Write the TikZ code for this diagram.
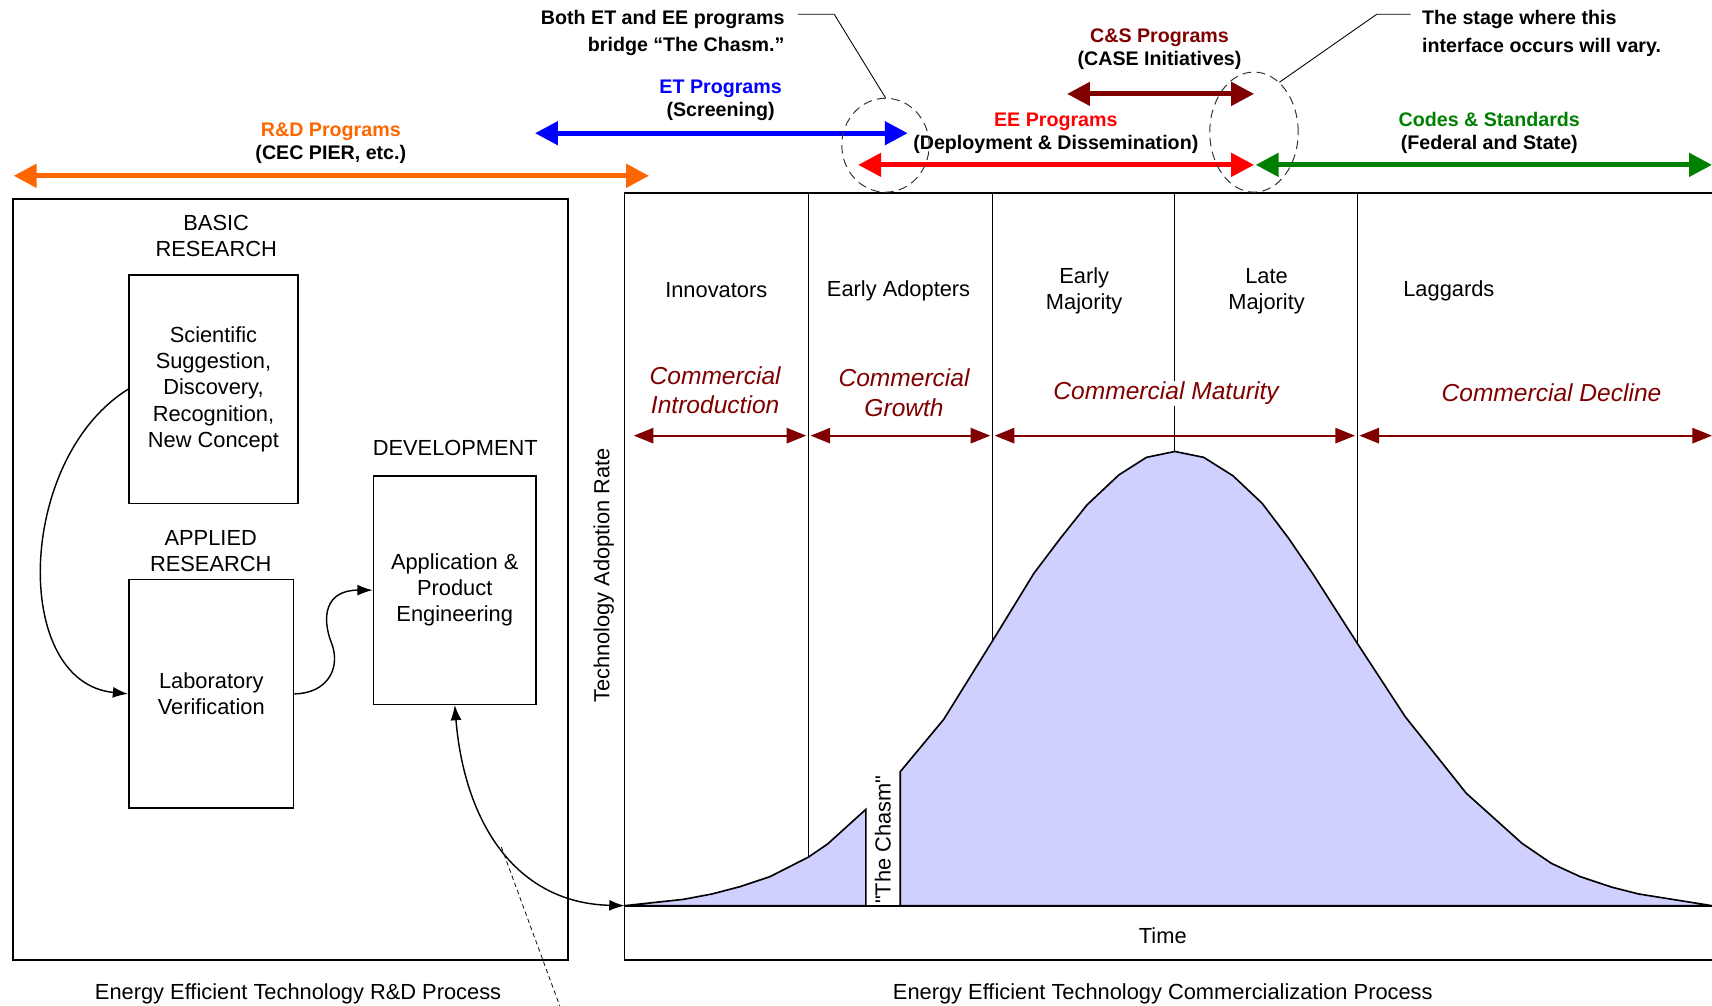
\documentclass[tikz,border=0pt]{standalone}
\usepackage{fontspec}
\setmainfont{Liberation Sans}[Ligatures=TeXOff]
\usetikzlibrary{arrows,arrows.meta,shapes.geometric}
\definecolor{rdorange}{HTML}{FF6600}
\definecolor{etblue}{HTML}{0000FF}
\definecolor{eered}{HTML}{FF0000}
\definecolor{csred}{HTML}{800000}
\definecolor{codegreen}{HTML}{008000}
\definecolor{adoptfill}{HTML}{D0D0FF}
\tikzset{
    procframe/.style={rectangle,draw,line width=1.5pt,inner sep=0pt,outer sep=0pt},
    stagebox/.style={rectangle,draw,line width=1.3pt,inner sep=0pt,align=center,font=\fontsize{20}{24}\selectfont},
    txt/.style={align=center,font=\fontsize{20}{24}\selectfont},
    phaselbl/.style={align=center,text=csred,font=\fontsize{22.5}{27}\selectfont\itshape},
    proglbl/.style={align=center,font=\fontsize{18}{21}\selectfont\bfseries},
    notetxt/.style={font=\fontsize{18}{25}\selectfont\bfseries},
    chasmring/.style={ellipse,draw=black!80,dash pattern=on 8pt off 5pt,line width=0.9pt,inner sep=0pt},
    noteline/.style={-,line width=0.8pt},
    flow/.style={->,> = {Latex[length=14pt,width=10pt]},line width=1.3pt},
    dflow/.style={<->,> = {Latex[length=14pt,width=10pt]},line width=1.3pt},
    prog/.style={{Triangle[length=21pt,width=21pt]}-{Triangle[length=21pt,width=21pt]},line width=4.5pt},
    stagespan/.style={{Triangle[length=18pt,width=14pt]}-{Triangle[length=18pt,width=14pt]},line width=1.8pt,draw=csred,shorten <=2pt,shorten >=2pt},
    divider/.style={line width=1.2pt},
    adopt/.style={fill=adoptfill,draw=black,line width=1.5pt},
}

\begin{document}
\begin{tikzpicture}[x=1pt,y=-1pt]
    \useasboundingbox (0,0) rectangle (1568,921);
    \coordinate (edge) at (1570,0);
    \coordinate (axis) at (572,829.5);

    % the two process frames
    \node[procframe,minimum width=508pt,minimum height=697pt] (rdframe) at (266,530.5) {};
    \node[procframe,minimum width=1010pt,minimum height=702pt,anchor=north west] (caframe) at (572,177) {};

    % adoption curve with the chasm
    \filldraw[adopt] (axis) -- (626,823.7) -- (652,818.8) -- (678,812) -- (705,803)
        -- (740.4,785) -- (758,773) -- (793,741.3) -- (793,829.5) -- cycle;
    \filldraw[adopt] (824.5,829.5) -- (824.5,706.8) -- (864.3,658.9) -- (909,587)
        -- (947,525) -- (971.2,493) -- (995.5,462.5) -- (1024.7,435) -- (1050,418.9)
        -- (1076,413.5) -- (1102.5,418.9) -- (1129.2,435.7) -- (1156,461) -- (1180.2,493)
        -- (1202,525) -- (1243,589) -- (1287,656.4) -- (1343,726.6) -- (1394,772.4)
        -- (1420.8,790.7) -- (1447.5,803) -- (1476.7,812.7) -- (1501,818.8)
        -- (1568,829.5) -- cycle;
    \draw[line width=1.5pt] (axis) -- (edge |- axis);

    % stage dividers
    \coordinate (c1) at (740.4,785);
    \coordinate (c2) at (909,587);
    \coordinate (c3) at (1076,413.5);
    \coordinate (c4) at (1243,589);
    \draw[divider] (c1 |- caframe.north) -- (c1);
    \draw[divider] (c2 |- caframe.north) -- (c2);
    \draw[divider] (c3 |- caframe.north) -- (c3);
    \draw[divider] (c4 |- caframe.north) -- (c4);

    % adopter groups
    \node[txt] (innov) at (656,265.5) {Innovators};
    \node[txt] (eadopt) at (823,266.5) {Early Adopters};
    \node[txt] (emaj) at (993,266.5) {Early\\Majority};
    \node[txt] (lmaj) at (1160,266.5) {Late\\Majority};
    \node[txt] (lagg) at (1327,266.5) {Laggards};

    % commercial phases
    \node[phaselbl] (intro) at (655,357.5) {Commercial\\Introduction};
    \node[phaselbl] (growth) at (828,359.5) {Commercial\\Growth};
    \node[phaselbl,fill=white,inner sep=1pt] (mature) at (1068,360) {Commercial Maturity};
    \node[phaselbl] (decline) at (1421,359.5) {Commercial Decline};
    \coordinate (sp) at (0,399);
    \draw[stagespan,shorten <=8.5pt] (caframe.west |- sp) -- (c1 |- sp);
    \draw[stagespan] (c1 |- sp) -- (c2 |- sp);
    \draw[stagespan] (c2 |- sp) -- (c4 |- sp);
    \draw[stagespan] (c4 |- sp) -- (edge |- sp);

    % axis and captions
    \node[txt,rotate=90] (rate) at (553,527) {Technology Adoption Rate};
    \node[txt] (time) at (1065,857) {Time};
    \node[txt,rotate=90] (chasm) at (808.5,769) {"The Chasm"};
    \node[txt] (rdcap) at (273,910) {Energy Efficient Technology R\&D Process};
    \node[txt] (cacap) at (1065,910) {Energy Efficient Technology Commercialization Process};

    % R&D stages
    \node[txt] (basic) at (198,216) {BASIC\\RESEARCH};
    \node[stagebox,minimum width=155pt,minimum height=209pt] (sci) at (195.5,356.5)
        {Scientific\\Suggestion,\\Discovery,\\Recognition,\\New Concept};
    \node[txt] (applied) at (193,504.5) {APPLIED\\RESEARCH};
    \node[stagebox,minimum width=151pt,minimum height=209pt] (lab) at (193.5,635.5) {Laboratory\\Verification};
    \node[txt] (devel) at (417,410) {DEVELOPMENT};
    \node[stagebox,minimum width=149pt,minimum height=209pt] (app) at (416.5,540.5) {Application \&\\Product\\Engineering};

    \draw[flow] (sci.west) .. controls (15,420) and (10,625) .. (lab.west);
    \draw[flow] (lab.east) .. controls (300,635) and (312,612) .. (304,590)
        .. controls (294,565) and (298,540.5) .. (app.west);
    \draw[dflow] (app.south) .. controls (425,750) and (470,827) .. (axis) coordinate[pos=0.5] (rdlink);
    \coordinate (offpage) at (514,925);
    \draw[line width=0.7pt,dash pattern=on 4pt off 3pt] (rdlink) -- (offpage);

    % program labels and spans
    \node[proglbl] (rdlbl) at (303,131) {\textcolor{rdorange}{R\&D Programs}\\(CEC PIER, etc.)};
    \node[proglbl] (etlbl) at (660,92) {\textcolor{etblue}{ET Programs}\\(Screening)};
    \node[proglbl] (eelbl) at (967,122) {\textcolor{eered}{EE Programs}\\(Deployment \& Dissemination)};
    \node[proglbl] (cslbl) at (1062,45) {\textcolor{csred}{C\&S Programs}\\(CASE Initiatives)};
    \node[proglbl] (codelbl) at (1364,122) {\textcolor{codegreen}{Codes \& Standards}\\(Federal and State)};
    \coordinate (rdL) at (12.5,161);
    \coordinate (rdR) at (594.5,161);
    \coordinate (etL) at (490,122);
    \coordinate (etR) at (831.4,122);
    \coordinate (eeL) at (786,151);
    \coordinate (eeR) at (1148.6,151);
    \coordinate (csL) at (977.3,86);
    \coordinate (csR) at (1148.6,86);
    \coordinate (codeL) at (1150,151);
    \coordinate (codeR) at (1568,151);
    \draw[prog,draw=rdorange] (rdL) -- (rdR);
    \draw[prog,draw=etblue] (etL) -- (etR);
    \draw[prog,draw=eered] (eeL) -- (eeR);
    \draw[prog,draw=csred] (csL) -- (csR);
    \draw[prog,draw=codegreen] (codeL) -- (codeR);

    % hand-over rings and notes
    \node[chasmring,minimum width=80pt,minimum height=86pt] (ring1) at (811,133) {};
    \node[chasmring,minimum width=81pt,minimum height=110pt] (ring2) at (1148.5,121) {};
    \node[notetxt,align=right,anchor=east] (bothnote) at (722,30.5) {Both ET and EE programs\\bridge “The Chasm.”};
    \node[notetxt,align=left,anchor=west] (stagenote) at (1299,30.5) {The stage where this\\interface occurs will vary.};
    \coordinate (bothend) at (731,13);
    \coordinate (stageend) at (1292,13);
    \draw[noteline] (bothend) -- ++(33,0) -- (ring1.north);
    \draw[noteline] (stageend) -- ++(-31,0) -- (ring2.63);
\end{tikzpicture}
\end{document}
